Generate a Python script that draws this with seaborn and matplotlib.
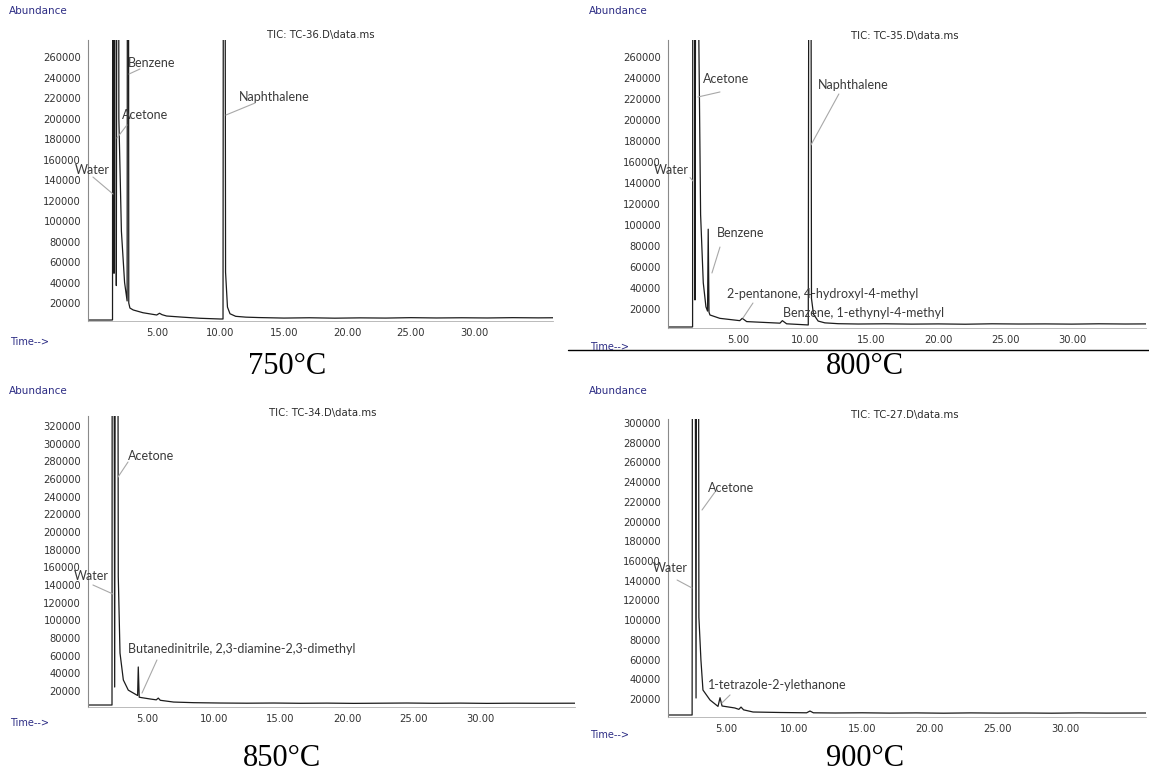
#!/usr/bin/env python3
"""Four GC-MS total ion chromatograms (TIC) at different pyrolysis temperatures."""

import matplotlib
matplotlib.use("Agg")
import matplotlib.pyplot as plt
import pandas as pd
import seaborn as sns
from matplotlib.ticker import FixedLocator, MultipleLocator, FormatStrFormatter

FIG_W, FIG_H = 1149, 776

# --- traces: retention time (min) / abundance ---
# off-scale peaks are given a large value and get clipped at the top of the axes
T750 = [-0.43, 1.40, 1.50, 1.54, 1.62, 1.72, 1.80, 1.93, 2.00, 2.20, 2.45, 2.65, 2.72, 2.78,
	2.87, 3.13, 3.90, 4.98, 5.20, 5.40, 5.76, 7.00, 8.39, 9.96, 10.20, 10.28, 10.40, 10.55,
	10.75, 11.20, 12.00, 13.00, 15.00, 17.00, 19.00, 21.00, 23.00, 25.00, 27.00, 29.00,
	31.00, 33.00, 35.00, 36.18]
A750 = [3400, 3400, 3500, 1200000, 49000, 1200000, 37000, 1200000, 200000, 90000, 40000,
	22000, 1200000, 20000, 15100, 13200, 10500, 8300, 10000, 8600, 7300, 6200, 5100, 4400,
	4400, 1200000, 50000, 16000, 9500, 7000, 6200, 5800, 5300, 5600, 5200, 5500, 5300,
	5700, 5400, 5600, 5400, 5700, 5500, 5600]

T800 = [-0.24, 1.55, 1.60, 1.65, 1.78, 1.95, 2.05, 2.20, 2.40, 2.60, 2.72, 2.77, 2.83, 2.90,
	3.64, 5.13, 5.32, 5.65, 8.14, 8.32, 8.64, 10.26, 10.38, 10.50, 10.65, 11.00, 11.50,
	12.50, 14.00, 16.00, 18.00, 20.00, 22.00, 24.00, 26.00, 28.00, 30.00, 32.00, 34.00, 35.54]
A800 = [2860, 2860, 3000, 1200000, 28600, 1200000, 300000, 110000, 45000, 22000, 18000,
	96000, 17000, 14300, 11100, 8900, 11100, 8000, 6500, 8900, 5900, 4800, 1200000, 30000,
	15000, 8500, 6800, 6000, 5700, 5900, 5600, 5800, 5500, 5900, 5700, 5800, 5600, 5900,
	5700, 5800]

T850 = [0.58, 2.38, 2.43, 2.58, 2.73, 2.85, 2.98, 3.23, 3.60, 4.23, 4.30, 4.35, 4.42, 4.60,
	5.23, 5.70, 5.85, 6.00, 7.00, 8.50, 10.50, 12.50, 14.50, 16.50, 18.50, 20.50, 22.50,
	24.50, 26.50, 28.50, 30.50, 32.50, 34.50, 37.10]
A850 = [4150, 4150, 1500000, 24500, 1500000, 150000, 63000, 32500, 21000, 15500, 15000,
	47200, 13000, 12500, 11000, 10000, 12000, 9500, 7500, 6800, 6400, 6200, 6400, 6100,
	6300, 6000, 6200, 6400, 6100, 6300, 6000, 6200, 6100, 6200]

T900 = [0.67, 2.45, 2.52, 2.74, 2.85, 2.95, 3.10, 3.25, 3.77, 4.36, 4.51, 4.66, 5.60, 5.90,
	6.06, 6.25, 6.95, 9.00, 10.90, 11.15, 11.40, 13.00, 15.00, 17.00, 19.00, 21.00, 23.00,
	25.00, 27.00, 29.00, 31.00, 33.00, 35.95]
A900 = [3770, 3770, 1300000, 21000, 1300000, 103000, 59600, 29100, 19000, 12500, 21300,
	12900, 10900, 9500, 11800, 9000, 6800, 6300, 6000, 7800, 6000, 5800, 6000, 5700, 5900,
	5600, 5900, 5700, 5800, 5600, 5900, 5700, 5800]

TEMPS = ["750°C", "800°C", "850°C", "900°C"]
TIC_NAMES = ["TIC: TC-36.D\\data.ms", "TIC: TC-35.D\\data.ms",
	"TIC: TC-34.D\\data.ms", "TIC: TC-27.D\\data.ms"]
Y_TOP_TICK = [260000, 260000, 320000, 300000]
X_TICKS = [5, 10, 15, 20, 25, 30]

# peak labels per panel: (text, text anchor, leader start, leader end) in data units
LABELS = [
	[
		("Water", (-1.46, 149800), (-0.04, 142900), (1.54, 126300)),
		("Acetone", (2.24, 203400), (2.64, 193700), (1.85, 181000)),
		("Benzene", (2.72, 254100), (2.80, 243400), (3.66, 248300)),
		("Naphthalene", (11.46, 221000), (12.72, 215100), (10.43, 203400)),
	],
	[
		("Water", (-1.29, 152400), (1.41, 145200), (1.63, 141900)),
		("Acetone", (2.38, 239000), (3.65, 226700), (2.00, 221900)),
		("Naphthalene", (10.98, 233300), (12.55, 224800), (10.46, 176200)),
		("Benzene", (3.43, 92400), (3.65, 79000), (3.05, 54300)),
		("2-pentanone, 4-hydroxyl-4-methyl", (4.18, 34300), (6.12, 25700), (5.37, 11400)),
		("Benzene, 1-ethynyl-4-methyl", (8.37, 16200), None, None),
	],
	[
		("Acetone", (3.58, 286000), (3.58, 279200), (2.83, 262200)),
		("Water", (-0.47, 150200), (0.95, 140000), (2.45, 129800)),
		("Butanedinitrile, 2,3-diamine-2,3-dimethyl", (3.58, 67500), (5.75, 55100), (4.63, 17700)),
	],
	[
		("Acetone", (3.63, 234100), (4.14, 230000), (3.18, 211700)),
		("Water", (-0.44, 152900), (1.34, 140700), (2.44, 132600)),
		("1-tetrazole-2-ylethanone", (3.62, 34200), (5.25, 24100), (4.64, 15900)),
	],
]

# layout in pixels of the original screenshot
AX_BOX = [(88, 40, 553, 321), (668, 40, 1146, 328), (88, 416, 575, 707), (668, 419, 1146, 717)]
XLIMS = [(-0.43, 36.18), (-0.24, 35.54), (0.58, 37.10), (0.67, 35.95)]
YLIMS = [(2440, 276600), (1900, 276200), (1900, 331300), (1740, 304000)]
ORIGIN = [(0, 0), (580, 0), (0, 380), (580, 380)]
CAPTION_POS = [(287, 367), (865, 367), (282, 758), (865, 758)]
TIC_POS = [(321, 35), (905, 36), (323, 413), (905, 415)]
TIME_Y = [342, 347, 723, 735]

NAVY = "#2c2c84"
LABEL_FONT = "Lato"


def px(x, y):
	return x / FIG_W, 1 - y / FIG_H


def draw_panel(fig, i, times, abund):
	x0, y0, x1, y1 = AX_BOX[i]
	left, top = px(x0, y0)
	right, bottom = px(x1, y1)
	ax = fig.add_axes([left, bottom, right - left, top - bottom])

	df = pd.DataFrame({"Time": times, "Abundance": abund})
	sns.lineplot(data=df, x="Time", y="Abundance", ax=ax, color="#1c1c1c", lw=0.9,
		estimator=None, sort=False)

	ax.set_xlim(*XLIMS[i])
	ax.set_ylim(*YLIMS[i])
	ax.set_xlabel("")
	ax.set_ylabel("")

	ax.xaxis.set_major_locator(FixedLocator(X_TICKS))
	ax.xaxis.set_major_formatter(FormatStrFormatter("%.2f"))
	ax.xaxis.set_minor_locator(MultipleLocator(1))
	ax.yaxis.set_major_locator(FixedLocator(list(range(20000, Y_TOP_TICK[i] + 1, 20000))))
	ax.yaxis.set_minor_locator(MultipleLocator(4000))
	ax.tick_params(which="major", direction="out", length=3, width=0.6, color="#777777",
		labelsize=7.2, labelcolor="#333333", pad=2)
	ax.tick_params(which="minor", direction="out", length=1.8, width=0.5, color="#999999")

	for side in ("top", "right"):
		ax.spines[side].set_visible(False)
	ax.spines["left"].set_color("#8a8a8a")
	ax.spines["left"].set_linewidth(0.8)
	ax.spines["bottom"].set_color("#b0b0b0")
	ax.spines["bottom"].set_linewidth(0.6)
	ax.patch.set_alpha(0)

	for text, pos, lead_a, lead_b in LABELS[i]:
		ax.text(pos[0], pos[1], text, ha="left", va="center", fontsize=9,
			family=LABEL_FONT, color="#3a3a3a", clip_on=False)
		if lead_a is not None:
			ax.annotate("", xy=lead_b, xytext=lead_a, annotation_clip=False,
				arrowprops=dict(arrowstyle="-", color="#a8a8a8", lw=0.8, shrinkA=0, shrinkB=0))

	# instrument texts and caption
	ox, oy = ORIGIN[i]
	fig.text(*px(ox + 9, oy + 11), "Abundance", color=NAVY, fontsize=7.5, va="center")
	fig.text(*px(ox + 10, TIME_Y[i]), "Time-->", color=NAVY, fontsize=7, va="center")
	fig.text(*px(*TIC_POS[i]), TIC_NAMES[i], color="#2a2a2a", fontsize=7.3,
		ha="center", va="center")
	fig.text(*px(*CAPTION_POS[i]), TEMPS[i], family="Liberation Serif", fontsize=22,
		ha="center", va="center", color="black")
	return ax


def main():
	sns.set_theme(style="white")
	plt.rcParams["font.family"] = ["DejaVu Sans"]

	fig = plt.figure(figsize=(FIG_W / 100, FIG_H / 100), dpi=100)
	fig.patch.set_facecolor("white")

	traces = [(T750, A750), (T800, A800), (T850, A850), (T900, A900)]
	for i, (t, a) in enumerate(traces):
		draw_panel(fig, i, t, a)

	# rule under the 800°C chromatogram
	l0 = px(568, 350)
	l1 = px(1149, 350)
	fig.add_artist(plt.Line2D([l0[0], l1[0]], [l0[1], l1[1]], color="black", lw=1.0))

	fig.savefig("out.png", dpi=100)
	plt.close(fig)


if __name__ == "__main__":
	main()
